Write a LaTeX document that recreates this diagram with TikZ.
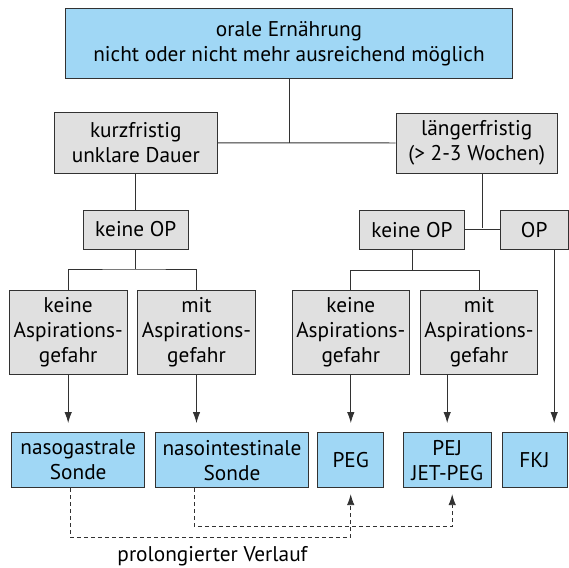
\documentclass[tikz,border=0pt]{standalone}
\usepackage{fontspec}
\setmainfont{PT Sans}
\usepackage{tikz}
\usetikzlibrary{arrows.meta}
\definecolor{sondeblue}{RGB}{160,215,245}
\definecolor{casegray}{RGB}{224,224,224}
\definecolor{edgegray}{RGB}{50,50,50}
\tikzstyle{Criterion}=[shape=rectangle, fill=casegray, draw=edgegray, line width=0.9pt, inner sep=0pt, align=center, text=black, font=\fontsize{21.3}{25}\selectfont]
\tikzstyle{Access}=[Criterion, fill=sondeblue]
\tikzstyle{link}=[line width=0.9pt, draw=edgegray]
\tikzstyle{arrow}=[link, -{Latex[length=11pt,width=7.5pt]}, shorten >=9pt]
\tikzstyle{prolonged}=[link, dash pattern=on 4pt off 3pt, -{Latex[length=11pt,width=7.5pt]}, shorten >=6pt]
\pgfdeclarelayer{nodelayer}
\pgfdeclarelayer{edgelayer}
\pgfsetlayers{main, nodelayer, edgelayer}

\begin{document}
\begin{tikzpicture}[x=1pt, y=-1pt]
	\useasboundingbox (0,0) rectangle (569,567);
	\begin{pgfonlayer}{nodelayer}
		\node [style=Access, minimum width=446.6pt, minimum height=69.6pt] (oral) at (289, 43.5) {orale Ernährung\\nicht oder nicht mehr ausreichend möglich};
		\node [style=Criterion, minimum width=162.3pt, minimum height=61pt] (short) at (135.8, 142.8) {kurzfristig\\unklare Dauer};
		\node [style=Criterion, minimum width=161.3pt, minimum height=60pt] (long) at (476.7, 143) {längerfristig\\(> 2-3 Wochen)};
		% operation
		\node [style=Criterion, minimum width=105pt, minimum height=39pt] (shortnoop) at (135.8, 229.5) {keine OP};
		\node [style=Criterion, minimum width=105.4pt, minimum height=38.5pt] (longnoop) at (412, 229.8) {keine OP};
		\node [style=Criterion, minimum width=67.7pt, minimum height=38.5pt] (longop) at (534.2, 229.8) {OP};
		% aspiration
		\node [style=Criterion, minimum width=117.7pt, minimum height=83.6pt] (shortnorisk) at (68.2, 332.5) {keine\\Aspirations-\\gefahr};
		\node [style=Criterion, minimum width=117.7pt, minimum height=83.6pt] (shortrisk) at (196.5, 332.5) {mit\\Aspirations-\\gefahr};
		\node [style=Criterion, minimum width=117.7pt, minimum height=83.6pt] (longnorisk) at (350.8, 332.5) {keine\\Aspirations-\\gefahr};
		\node [style=Criterion, minimum width=117.7pt, minimum height=83.6pt] (longrisk) at (479, 332.5) {mit\\Aspirations-\\gefahr};
		% tubes
		\node [style=Access, minimum width=133pt, minimum height=55.2pt] (ngs) at (78.2, 460.1) {nasogastrale\\Sonde};
		\node [style=Access, minimum width=152.7pt, minimum height=55.2pt] (nis) at (232, 460.1) {nasointestinale\\Sonde};
		\node [style=Access, minimum width=66pt, minimum height=55.2pt] (peg) at (350.7, 460.1) {PEG};
		\node [style=Access, minimum width=88.3pt, minimum height=55.2pt] (pej) at (447.2, 460.1) {PEJ\\JET-PEG};
		\node [style=Access, minimum width=65pt, minimum height=55.2pt] (fkj) at (534.5, 460.1) {FKJ};
		\node [anchor=base, font=\fontsize{21.3}{25}\selectfont] (prolongation) at (212.5, 561) {prolongierter Verlauf};
	\end{pgfonlayer}
	\begin{pgfonlayer}{edgelayer}
		\coordinate (shortsplit) at (135.8, 269);
		\coordinate (longsplit) at (482, 228);
		\coordinate (longnoopsplit) at (412, 270.3);
		\coordinate (ngsturn) at (70, 537.3);
		\coordinate (nisturn) at (194.3, 526.7);

		\draw [style=link] (short) -- (long);
		\draw [style=link] (oral) -- (oral |- short);
		\draw [style=link] (short) -- (shortnoop);
		\draw [style=link] (shortnoop) -- (shortsplit);
		\draw [style=link] (shortnorisk.north) |- (shortsplit) -| (shortrisk.north);
		\draw [style=link] (longnoop) -- (longop);
		\draw [style=link] (long.south -| longsplit) -- (longsplit);
		\draw [style=link] (longnoop) -- (longnoopsplit);
		\draw [style=link] (longnorisk.north) |- (longnoopsplit) -| (longrisk.north);

		% arrows
		\draw [style=arrow] (shortnorisk) -- (shortnorisk |- ngs.north);
		\draw [style=arrow] (shortrisk) -- (shortrisk |- nis.north);
		\draw [style=arrow] (longnorisk) -- (longnorisk |- peg.north);
		\draw [style=arrow] (longrisk.south -| pej) -- (pej);
		\draw [style=arrow] ([xshift=20pt]longop.south) -- ([xshift=20pt]longop.south |- fkj.north);

		% prolonged course
		\draw [style=prolonged] (ngs.south -| ngsturn) -- (ngsturn) -| (peg);
		\draw [style=prolonged] (nis.south -| nisturn) -- (nisturn) -| ([xshift=5pt]pej.south);
	\end{pgfonlayer}
\end{tikzpicture}
\end{document}
